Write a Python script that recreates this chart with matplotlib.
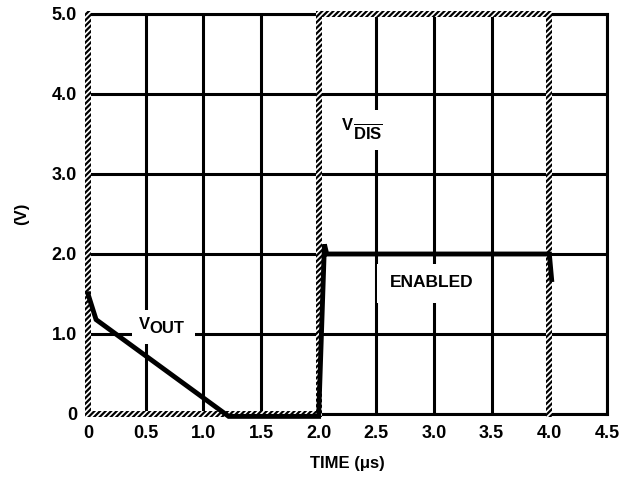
import matplotlib.pyplot as plt
from matplotlib.patches import Rectangle

plt.rcParams['font.family'] = ['Liberation Sans', 'DejaVu Sans']
plt.rcParams['font.weight'] = 'bold'
plt.rcParams['axes.labelweight'] = 'bold'
plt.rcParams['mathtext.fontset'] = 'custom'
plt.rcParams['mathtext.rm'] = 'Liberation Sans:bold'
plt.rcParams['mathtext.bf'] = 'Liberation Sans:bold'
plt.rcParams['hatch.linewidth'] = 1.6

# V_OUT trace (time in us, volts)
t_out = [0.0, 0.07, 1.22, 2.0, 2.05, 2.07, 4.0, 4.02]
v_out = [1.5, 1.18, -0.03, -0.03, 2.12, 2.0, 2.0, 1.68]

# V_DIS (hatched) trace
t_dis = [0.0, 0.0, 2.0, 2.0, 4.0, 4.0]
v_dis = [5.0, 0.0, 0.0, 5.0, 5.0, 0.0]

x_ticks = [0, 0.5, 1.0, 1.5, 2.0, 2.5, 3.0, 3.5, 4.0, 4.5]
x_labels = ['0', '0.5', '1.0', '1.5', '2.0', '2.5', '3.0', '3.5', '4.0', '4.5']
y_ticks = [0, 1, 2, 3, 4, 5]
y_labels = ['0', '1.0', '2.0', '3.0', '4.0', '5.0']

fig = plt.figure(figsize=(6.31, 4.8), dpi=100)
ax = fig.add_axes([88 / 631, 66 / 480, 519 / 631, 400 / 480])
ax.set_xlim(0, 4.5)
ax.set_ylim(0, 5)
ax.set_xticks(x_ticks)
ax.set_xticklabels(x_labels, fontweight='bold')
ax.set_yticks(y_ticks)
ax.set_yticklabels(y_labels, fontweight='bold')
ax.tick_params(length=0, labelsize=13, pad=8)
ax.grid(True, color='black', lw=2.2, zorder=1)
ax.set_axisbelow(True)
for s in ax.spines.values():
    s.set_linewidth(2.2)

# hatched V_DIS band, half widths in data units (~3 px)
hx = 3 / 115.3
hy = 3 / 80
for i in range(len(t_dis) - 1):
    x0, x1 = sorted([t_dis[i], t_dis[i + 1]])
    y0, y1 = sorted([v_dis[i], v_dis[i + 1]])
    r = Rectangle((x0 - hx, y0 - hy), x1 - x0 + 2 * hx, y1 - y0 + 2 * hy,
                  facecolor='white', edgecolor='black', lw=0,
                  hatch='//////', zorder=3, clip_on=False)
    ax.add_patch(r)

ax.plot(t_out, v_out, color='black', lw=3.5, zorder=4, clip_on=False,
        solid_joinstyle='miter')

# label boxes (white gaps in the grid)
ax.add_patch(Rectangle((0.38, 0.87), 0.55, 0.43, facecolor='white', lw=0, zorder=2))
ax.text(0.44, 1.12, 'V', fontsize=12, fontweight='bold', ha='left',
        va='center', zorder=5)
ax.text(0.535, 1.07, 'OUT', fontsize=12, fontweight='bold', ha='left',
        va='center', zorder=5)

ax.add_patch(Rectangle((2.15, 3.3), 0.45, 0.5, facecolor='white', lw=0, zorder=2))
ax.text(2.2, 3.6, 'V', fontsize=12, fontweight='bold', ha='left',
        va='center', zorder=5)
ax.text(2.295, 3.52, r'$\overline{\mathrm{DIS}}$', fontsize=12, ha='left',
        va='center', zorder=5)

ax.add_patch(Rectangle((2.51, 1.39), 0.85, 0.48, facecolor='white', lw=0, zorder=2))
ax.text(2.98, 1.64, 'ENABLED', fontsize=12.5, fontweight='bold', ha='center',
        va='center', zorder=5)

ax.set_xlabel('TIME (μs)', fontsize=12, fontweight='bold', labelpad=10)
ax.set_ylabel('(V)', fontsize=12, fontweight='bold', labelpad=16)

fig.savefig('out.png', dpi=100)
